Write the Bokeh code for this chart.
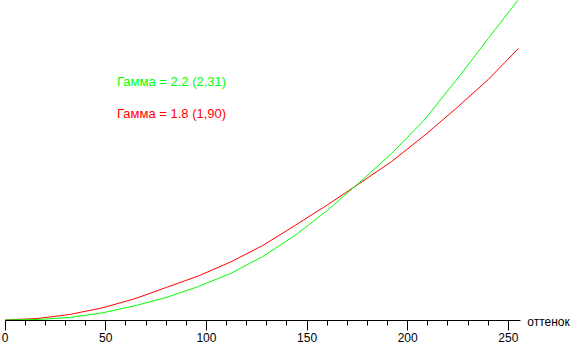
from bokeh.plotting import figure
from bokeh.models import Range1d, FixedTicker, Label
from bokeh.embed import file_html
from bokeh.resources import INLINE

# shade (оттенок) vs measured brightness (relative units, no y axis shown)
shade = [0, 16, 32, 48, 64, 80, 96, 112, 128, 144, 160, 176, 192, 208, 224, 240, 255]
gamma22 = [0.5, 1, 3, 7.5, 14.5, 23, 34, 47, 64, 85, 110, 138, 167, 200, 240, 282, 321]
gamma18 = [0.5, 2, 6, 12.5, 21.5, 33, 44.5, 58.5, 75, 95, 115.5, 137, 159, 184.5, 212, 241, 272]

major_ticks = [0, 50, 100, 150, 200, 250]
minor_ticks = [10, 20, 30, 40, 60, 70, 80, 90, 110, 120, 130, 140,
               160, 170, 180, 190, 210, 220, 230, 240]

label22 = "Гамма = 2.2 (2,31)"
label18 = "Гамма = 1.8 (1,90)"
xlabel = "оттенок"

FONT = "Liberation Sans"

p = figure(width=570, height=346, output_backend="svg", toolbar_location=None,
           x_range=Range1d(-2.285, 269.94), y_range=Range1d(0, 320),
           y_axis_location=None,
           min_border_left=0, min_border_right=22, min_border_top=0,
           min_border_bottom=26)
p.grid.visible = False
p.outline_line_color = None
p.background_fill_color = "white"
p.border_fill_color = "white"

ax = p.xaxis[0]
ax.ticker = FixedTicker(ticks=major_ticks, minor_ticks=minor_ticks)
ax.bounds = (0, 256)
ax.axis_line_color = "black"
ax.axis_line_width = 1
ax.major_tick_line_color = "black"
ax.minor_tick_line_color = "black"
ax.major_tick_in = 0
ax.major_tick_out = 10
ax.minor_tick_in = 0
ax.minor_tick_out = 5
ax.major_label_standoff = 2
ax.major_label_text_font = FONT
ax.major_label_text_font_size = "12px"
ax.major_label_text_color = "black"
ax.axis_label = xlabel
ax.axis_label_align = "end"
ax.axis_label_standoff = -30
ax.axis_label_text_font = FONT
ax.axis_label_text_font_size = "12px"
ax.axis_label_text_font_style = "normal"
ax.axis_label_text_color = "black"

p.line(shade, gamma18, line_color="#ff0000", line_width=1)
p.line(shade, gamma22, line_color="#00ff00", line_width=1)

p.add_layout(Label(x=55.6, y=239.5, text=label22, text_color="#00ff00",
                   text_font=FONT, text_font_size="13px",
                   text_baseline="alphabetic", text_align="left"))
p.add_layout(Label(x=55.6, y=207.0, text=label18, text_color="#ff0000",
                   text_font=FONT, text_font_size="13px",
                   text_baseline="alphabetic", text_align="left"))

open("out.html", "w").write(file_html(p, INLINE))
